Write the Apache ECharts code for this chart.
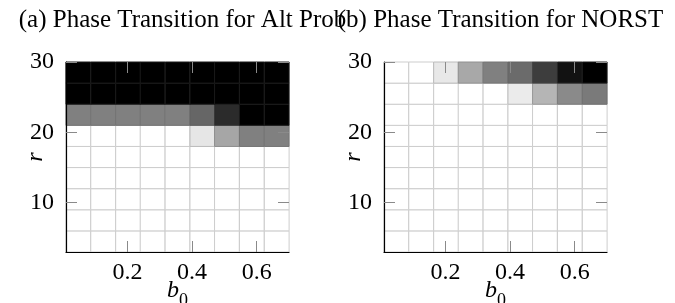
<!DOCTYPE html>
<html>
<head>
<meta charset="utf-8">
<script src="https://cdn.jsdelivr.net/npm/echarts@6/dist/echarts.min.js"></script>
<style>
html,body{margin:0;padding:0;background:#fff;}
#c{width:675px;height:303px;}
</style>
</head>
<body>
<div id="c"></div>
<script>
// ---- data ----
const titles = ['(a) Phase Transition for Alt Prob', '(b) Phase Transition for NORST'];
const b0Values = [0.048, 0.125, 0.202, 0.278, 0.355, 0.432, 0.508, 0.585, 0.662];
const rValues = [4.5, 7.5, 10.5, 13.5, 16.5, 19.5, 22.5, 25.5, 28.5];
const xTicks = [0.2, 0.4, 0.6];
const yTicks = [10, 20, 30];
// rows listed from r = 4.5 (bottom) to r = 28.5 (top); value = darkness (0 white .. 1 black)
const altProbValues = [
  [0, 0, 0, 0, 0, 0, 0, 0, 0],
  [0, 0, 0, 0, 0, 0, 0, 0, 0],
  [0, 0, 0, 0, 0, 0, 0, 0, 0],
  [0, 0, 0, 0, 0, 0, 0, 0, 0],
  [0, 0, 0, 0, 0, 0, 0, 0, 0],
  [0, 0, 0, 0, 0, 0.1, 0.35, 0.5, 0.5],
  [0.5, 0.5, 0.5, 0.5, 0.5, 0.6, 0.83, 1, 1],
  [1, 1, 1, 1, 1, 1, 1, 1, 1],
  [1, 1, 1, 1, 1, 1, 1, 1, 1]
];
const norstValues = [
  [0, 0, 0, 0, 0, 0, 0, 0, 0],
  [0, 0, 0, 0, 0, 0, 0, 0, 0],
  [0, 0, 0, 0, 0, 0, 0, 0, 0],
  [0, 0, 0, 0, 0, 0, 0, 0, 0],
  [0, 0, 0, 0, 0, 0, 0, 0, 0],
  [0, 0, 0, 0, 0, 0, 0, 0, 0],
  [0, 0, 0, 0, 0, 0, 0, 0, 0],
  [0, 0, 0, 0, 0, 0.08, 0.29, 0.46, 0.52],
  [0, 0, 0.09, 0.34, 0.5, 0.58, 0.76, 0.93, 1]
];
const xRange = [0.01, 0.70];
const yRange = [3, 30];

// ---- build ----
const dy = rValues[1] - rValues[0];
const cellW = (xRange[1] - xRange[0]) / b0Values.length;
function toTriples(mat) {
  const out = [];
  mat.forEach((row, j) => row.forEach((v, i) => out.push([b0Values[i], rValues[j], v])));
  return out;
}
const FONT = 'Liberation Serif';
function renderItem(params, api) {
  const x = api.value(0), y = api.value(1), v = api.value(2);
  const p0 = api.coord([x - cellW / 2, y + dy / 2]);
  const p1 = api.coord([x + cellW / 2, y - dy / 2]);
  const g = Math.round(255 * (1 - v));
  const s = Math.round(26 + 0.7 * g);
  return {
    type: 'rect',
    shape: { x: p0[0], y: p0[1], width: p1[0] - p0[0], height: p1[1] - p0[1] },
    style: { fill: `rgb(${g},${g},${g})`, stroke: `rgb(${s},${s},${s})`, lineWidth: 1 }
  };
}
const grids = [
  { left: 66, top: 62, width: 223, height: 190, outerBoundsMode: 'none', containLabel: false },
  { left: 384, top: 62, width: 223, height: 190, outerBoundsMode: 'none', containLabel: false }
];
const tickStyle = { show: true, inside: true, length: 11, lineStyle: { color: '#8a8a8a', width: 1 } };
const xAxes = [], yAxes = [], series = [], titleArr = [];
[altProbValues, norstValues].forEach((mat, k) => {
  xAxes.push({
    type: 'value', gridIndex: k, position: 'bottom', min: xRange[0], max: xRange[1], z: 5,
    axisLine: { show: true, onZero: false, lineStyle: { color: '#000', width: 1.2 } },
    axisTick: Object.assign({ customValues: xTicks }, tickStyle),
    axisLabel: { customValues: xTicks, color: '#000', fontFamily: FONT, fontSize: 24, margin: 9,
      formatter: v => v.toFixed(1) },
    splitLine: { show: false },
    name: '{b|b}{s|0}', nameLocation: 'middle', nameGap: 27, nameMoveOverlap: false,
    nameTextStyle: { rich: {
      b: { fontFamily: FONT, fontStyle: 'italic', fontSize: 24, color: '#000' },
      s: { fontFamily: FONT, fontSize: 18, color: '#000', verticalAlign: 'bottom', padding: [0, 0, -7, 0] } } }
  });
  xAxes.push({
    type: 'value', gridIndex: k, position: 'top', min: xRange[0], max: xRange[1], z: 5,
    axisLine: { show: false }, axisTick: Object.assign({ customValues: xTicks }, tickStyle),
    axisLabel: { show: false }, splitLine: { show: false }
  });
  yAxes.push({
    type: 'value', gridIndex: k, position: 'left', min: yRange[0], max: yRange[1], z: 5,
    axisLine: { show: true, onZero: false, lineStyle: { color: '#000', width: 1.2 } },
    axisTick: Object.assign({ customValues: yTicks }, tickStyle),
    axisLabel: { customValues: yTicks, color: '#000', fontFamily: FONT, fontSize: 24, margin: 12 },
    splitLine: { show: false },
    name: 'r', nameLocation: 'middle', nameGap: 18, nameRotate: 90, nameMoveOverlap: false,
    nameTextStyle: { fontFamily: FONT, fontStyle: 'italic', fontSize: 24, color: '#000' }
  });
  yAxes.push({
    type: 'value', gridIndex: k, position: 'right', min: yRange[0], max: yRange[1], z: 5,
    axisLine: { show: false }, axisTick: Object.assign({ customValues: yTicks }, tickStyle),
    axisLabel: { show: false }, splitLine: { show: false }
  });
  series.push({
    type: 'custom', xAxisIndex: 2 * k, yAxisIndex: 2 * k, renderItem, data: toTriples(mat),
    silent: true, animation: false
  });
  titleArr.push({
    text: titles[k], left: grids[k].left + grids[k].width / 2, top: 3, textAlign: 'center',
    textStyle: { fontFamily: FONT, fontWeight: 'normal', fontSize: 25, color: '#000' }
  });
});
const chart = echarts.init(document.getElementById('c'), null, { renderer: 'canvas' });
chart.setOption({
  animation: false,
  backgroundColor: '#fff',
  title: titleArr,
  grid: grids,
  xAxis: xAxes,
  yAxis: yAxes,
  series
});
</script>
</body>
</html>
